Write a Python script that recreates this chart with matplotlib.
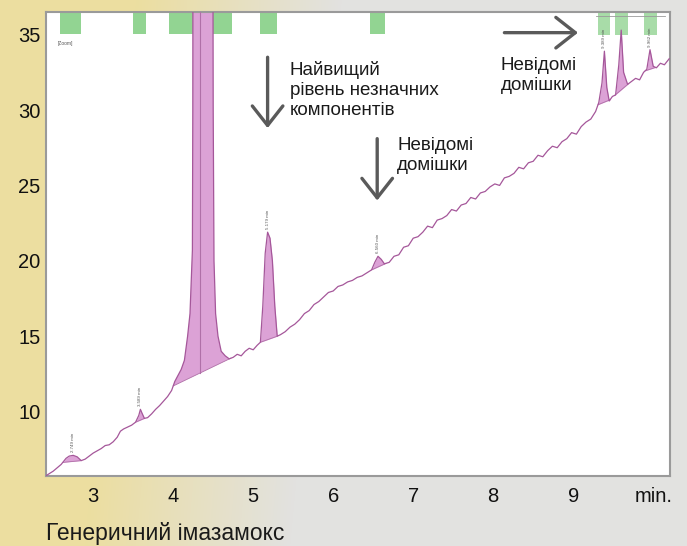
import numpy as np
import matplotlib
matplotlib.use("Agg")
import matplotlib.pyplot as plt
from matplotlib.patches import Rectangle

plt.rcParams['font.family'] = ['Liberation Sans', 'DejaVu Sans']

# ---- data ----
time = [2.41, 2.50, 2.60, 2.66, 2.70, 2.75, 2.80, 2.85, 2.90, 2.95, 3.00, 3.05, 3.10,
        3.15, 3.20, 3.25, 3.30, 3.34, 3.38, 3.42, 3.48, 3.53, 3.57, 3.59, 3.61, 3.64,
        3.68, 3.73, 3.78, 3.83, 3.88, 3.93, 3.98, 4.02, 4.06, 4.10, 4.14, 4.18, 4.21,
        4.24, 4.245, 4.25, 4.49, 4.50, 4.51, 4.53, 4.56, 4.60, 4.65, 4.70, 4.75, 4.80,
        4.85, 4.90, 4.95, 5.00, 5.05, 5.09, 5.12, 5.15, 5.18, 5.21, 5.24, 5.27, 5.30,
        5.34, 5.40, 5.46, 5.52, 5.58, 5.64, 5.70, 5.76, 5.82, 5.88, 5.94, 6.00, 6.06,
        6.12, 6.18, 6.24, 6.30, 6.36, 6.42, 6.48, 6.52, 6.56, 6.60, 6.64, 6.70, 6.76,
        6.82, 6.88, 6.94, 7.00, 7.06, 7.12, 7.18, 7.24, 7.30, 7.36, 7.42, 7.48, 7.54,
        7.60, 7.66, 7.72, 7.78, 7.84, 7.90, 7.96, 8.02, 8.08, 8.14, 8.20, 8.26, 8.32,
        8.38, 8.44, 8.50, 8.56, 8.62, 8.68, 8.74, 8.80, 8.86, 8.92, 8.98, 9.04, 9.10,
        9.16, 9.22, 9.28, 9.32, 9.36, 9.39, 9.42, 9.45, 9.49, 9.53, 9.57, 9.60, 9.63,
        9.68, 9.73, 9.78, 9.83, 9.88, 9.92, 9.96, 10.00, 10.04, 10.09, 10.14, 10.20]
signal = [5.75, 6.05, 6.50, 6.90, 7.05, 7.10, 7.00, 6.75, 6.85, 7.05, 7.25, 7.40, 7.55,
          7.75, 7.80, 8.00, 8.30, 8.70, 8.85, 8.95, 9.10, 9.30, 9.75, 10.15, 9.90, 9.55,
          9.60, 9.85, 10.15, 10.40, 10.70, 11.00, 11.40, 12.00, 12.40, 12.80, 13.40, 15.00, 16.50,
          20.70, 30.00, 60.00, 60.00, 30.00, 20.00, 16.50, 15.00, 14.00, 13.70, 13.50, 13.60, 13.80,
          13.70, 14.00, 14.20, 14.10, 14.40, 14.60, 17.00, 20.50, 21.90, 21.50, 20.00, 17.00, 15.00,
          15.10, 15.30, 15.60, 15.80, 16.10, 16.50, 16.70, 17.10, 17.30, 17.60, 17.90, 18.00, 18.30,
          18.40, 18.60, 18.70, 18.90, 19.00, 19.20, 19.40, 19.90, 20.30, 20.10, 19.80, 19.90, 20.30,
          20.40, 20.90, 21.00, 21.50, 21.60, 21.90, 22.30, 22.20, 22.70, 22.80, 23.00, 23.40, 23.30,
          23.70, 23.80, 24.20, 24.10, 24.50, 24.60, 24.90, 25.10, 25.00, 25.50, 25.60, 25.80, 26.20,
          26.10, 26.50, 26.60, 27.00, 26.90, 27.30, 27.60, 27.50, 27.90, 28.10, 28.50, 28.40, 28.90,
          29.20, 29.40, 29.90, 30.50, 31.80, 33.90, 31.50, 30.60, 30.90, 31.00, 33.00, 35.30, 32.50,
          31.70, 31.90, 32.10, 32.00, 32.50, 32.70, 34.00, 32.90, 32.80, 33.10, 33.00, 33.40]

# integration windows (start, end) in minutes
peak_windows = [(2.62, 2.85), (3.53, 3.64), (4.00, 4.72), (5.09, 5.30), (6.48, 6.66),
                (9.31, 9.46), (9.52, 9.69), (9.90, 10.03)]
peak_apex = [2.75, 3.59, 4.37, 5.18, 6.56, 9.39, 9.60, 9.96]
peak_labels = ['2.749 min', '3.589 min', '4.371 min', '5.179 min', '6.560 min',
               '9.389 min', '9.601 min', '9.962 min']
split_time = 4.33

# green event bars at the top of the plot (start, end)
event_bars = [(2.59, 2.85), (3.50, 3.66), (3.95, 4.74), (5.09, 5.30), (6.46, 6.65)]
event_bars_small = [(9.31, 9.46), (9.52, 9.69), (9.89, 10.05)]

xticks = [3, 4, 5, 6, 7, 8, 9, 10]
xtick_labels = ['3', '4', '5', '6', '7', '8', '9', 'min.']
yticks = [10, 15, 20, 25, 30, 35]

# ---- figure ----
W, H = 687, 546
fig = plt.figure(figsize=(W / 100, H / 100), dpi=100)

# background (blurred sunflower photo look: yellow to the left, grey to the right)
xs = np.linspace(0, 1, W)[None, :]
ys = np.linspace(0, 1, H)[:, None]
yellow = np.array([236, 222, 160]) / 255.0
grey = np.array([226, 226, 224]) / 255.0
w = np.clip((xs - 0.16) / 0.30 + 0.25 * (ys - 0.5), 0, 1)
bg = yellow[None, None, :] * (1 - w[..., None]) + grey[None, None, :] * w[..., None]
fig.figimage(bg, xo=0, yo=0, origin='upper', zorder=-10)

ax = fig.add_axes([46 / W, 1 - 476 / H, (670 - 46) / W, (476 - 12) / H])
ax.set_zorder(1)
ax.set_facecolor('white')
ax.set_xlim(2.41, 10.21)
ax.set_ylim(5.73, 36.5)

t = np.array(time)
s = np.array(signal)

# event bars
for a, b in event_bars:
    ax.add_patch(Rectangle((a, 35.05), b - a, 1.45, color='#92d492', lw=0, zorder=1))
for a, b in event_bars_small:
    ax.add_patch(Rectangle((a, 35.0), b - a, 1.5, color='#a8dca8', lw=0, zorder=1))
ax.plot([9.28, 10.15], [36.25, 36.25], color='#9a9a9a', lw=0.6, zorder=1.5)

# filled peaks between the trace and the straight integration baseline
for (a, b) in peak_windows:
    m = (t >= a) & (t <= b)
    tt = np.concatenate([[a], t[m], [b]])
    ss = np.concatenate([[np.interp(a, t, s)], s[m], [np.interp(b, t, s)]])
    base = np.interp(tt, [a, b], [ss[0], ss[-1]])
    ax.fill_between(tt, base, ss, color='#dca2d6', lw=0, zorder=2)
    ax.plot([a, b], [ss[0], ss[-1]], color='#b070a8', lw=0.6, zorder=2.5)

# split line in the main peak
a, b = peak_windows[2]
yb = np.interp(split_time, [a, b], [np.interp(a, t, s), np.interp(b, t, s)])
ax.plot([split_time, split_time], [yb, 40], color='#b070a8', lw=0.8, zorder=2.6)

ax.plot(t, s, color='#a5579a', lw=0.9, zorder=3)

# tiny peak labels
for xa, lab in zip(peak_apex, peak_labels):
    ya = np.interp(xa, t, s)
    if ya > 34:
        continue
    ax.text(xa, min(ya + 0.2, 34.2), lab, rotation=90, fontsize=3.2, color='#555555',
            ha='center', va='bottom', zorder=4)
ax.text(2.55, 34.4, '[Zoom]', fontsize=3.5, color='#555555', ha='left', va='center')

# arrows
arrow_kw = dict(arrowstyle='->,head_length=0.7,head_width=0.55', lw=2.4,
                color='#5a5a5a', mutation_scale=20, shrinkA=0, shrinkB=0)
ax.annotate('', xy=(5.18, 28.8), xytext=(5.18, 33.5), arrowprops=arrow_kw, zorder=5)
ax.annotate('', xy=(6.55, 24.0), xytext=(6.55, 28.1), arrowprops=arrow_kw, zorder=5)
ax.annotate('', xy=(9.06, 35.13), xytext=(8.14, 35.13), arrowprops=arrow_kw, zorder=5)

txt_kw = dict(fontsize=13.5, color='#1a1a1a', ha='left', va='top', linespacing=1.22, zorder=5)
ax.text(5.455, 33.25, 'Найвищий\nрівень незначних\nкомпонентів', **txt_kw)
ax.text(6.80, 28.22, 'Невідомі\nдомішки', **txt_kw)
ax.text(8.09, 33.50, 'Невідомі\nдомішки', **txt_kw)

ax.set_xticks(xticks)
ax.set_xticklabels(xtick_labels)
ax.set_yticks(yticks)
ax.tick_params(axis='both', length=0, labelsize=14.5, colors='#111111')
ax.tick_params(axis='x', pad=8)
ax.tick_params(axis='y', pad=4)
for sp in ax.spines.values():
    sp.set_color('#9a9a9a')
    sp.set_linewidth(1.5)

fig.text(46 / W, 1 - 540 / H, 'Генеричний імазамокс', fontsize=16.5, color='#1a1a1a',
         ha='left', va='baseline')

fig.savefig('out.png', dpi=100)
